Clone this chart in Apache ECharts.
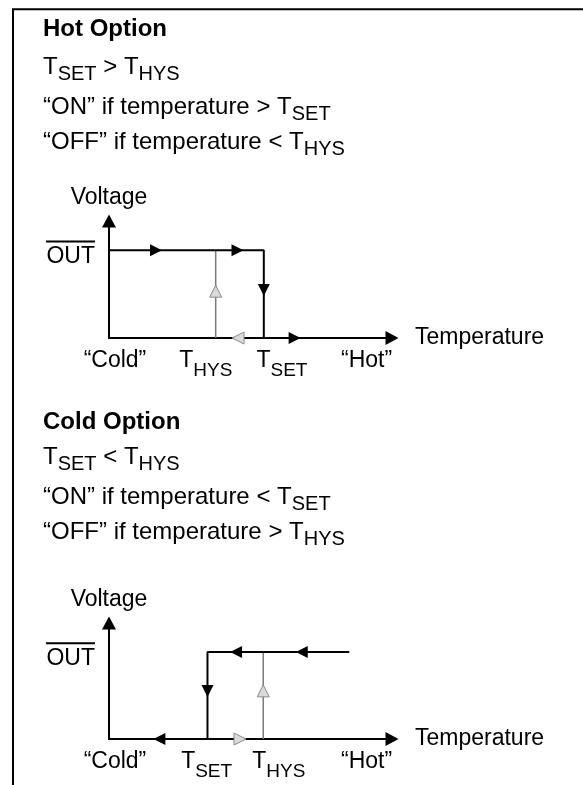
<!DOCTYPE html>
<html><head><meta charset="utf-8">
<script src="https://cdn.jsdelivr.net/npm/echarts@6/dist/echarts.min.js"></script>
<style>html,body{margin:0;padding:0;background:#fff}#c{width:583px;height:785px}</style>
</head><body><div id="c"></div><script>
const FONT = '"Liberation Sans", Arial, Helvetica, sans-serif';

// ---- Hot option ----
const hotTitle = 'Hot Option';
const hotLines = ['T_{SET} > T_{HYS}', '“ON” if temperature > T_{SET}', '“OFF” if temperature < T_{HYS}'];
const hotTickValues = [2.1, 34.2, 61.1, 91.0];
const hotTickLabels = ['“Cold”', 'T_{HYS}', 'T_{SET}', '“Hot”'];
const hotOutPath = [[0, 0.75], [54.7, 0.75], [54.7, 0]];
const hotHysPath = [[37.7, 0], [37.7, 0.75]];
const hotArrowsRight = [[16.6, 0.75], [45.4, 0.75], [65.6, 0]];
const hotArrowsDown = [[54.7, 0.41]];
const hotGrayUp = [[37.7, 0.40]];
const hotGrayLeft = [[45.6, 0]];

// ---- Cold option ----
const coldTitle = 'Cold Option';
const coldLines = ['T_{SET} < T_{HYS}', '“ON” if temperature < T_{SET}', '“OFF” if temperature > T_{HYS}'];
const coldTickValues = [2.1, 34.5, 60.0, 91.0];
const coldTickLabels = ['“Cold”', 'T_{SET}', 'T_{HYS}', '“Hot”'];
const coldOutPath = [[84.9, 0.75], [34.8, 0.75], [34.8, 0]];
const coldHysPath = [[54.5, 0], [54.5, 0.75]];
const coldArrowsLeft = [[44.9, 0.75], [68.1, 0.75], [17.8, 0]];
const coldArrowsDown = [[34.8, 0.414]];
const coldGrayUp = [[54.5, 0.415]];
const coldGrayRight = [[46.3, 0]];

const yLevelValues = [0.75];
const yLevelLabel = 'OUT';
const xName = 'Temperature';
const yName = 'Voltage';

function toRich(str, m, s) {
  const parts = str.split(/_\{([^}]*)\}/);
  return parts.map((p, i) => p === '' ? '' : (i % 2 ? '{' + s + '|' + p + '}' : '{' + m + '|' + p + '}')).join('');
}

const mainStyle = { fontFamily: FONT, fontSize: 23, color: '#000', height: 30, lineHeight: 30, verticalAlign: 'bottom' };
const blockStyle = Object.assign({}, mainStyle, { fontSize: 24 });
const boldStyle = Object.assign({}, blockStyle, { fontWeight: 'bold' });
const subLine = { fontFamily: FONT, fontSize: 20, color: '#000', height: 16, lineHeight: 16, verticalAlign: 'bottom' };
const subLabel = Object.assign({}, subLine, { fontSize: 19, height: 10, lineHeight: 10 });

const textTopsHot = [14, 52.7, 92.7, 127.4];
const textTopsCold = [407.4, 442.7, 482.7, 517.4];

function textBlock(title, lines, tops) {
  const els = [{ type: 'text', x: 43, y: tops[0], silent: true,
    style: { text: '{b|' + title + '}', rich: { b: boldStyle }, verticalAlign: 'top', align: 'left' } }];
  lines.forEach((l, i) => els.push({ type: 'text', x: 43, y: tops[i + 1], silent: true,
    style: { text: toRich(l, 'm', 's'), rich: { m: blockStyle, s: subLine }, verticalAlign: 'top', align: 'left' } }));
  return els;
}

function xAxisFor(gi, ticks, labels, margin) {
  return {
    gridIndex: gi, type: 'value', min: 0, max: 100,
    axisLine: { show: true, onZero: false, symbol: ['none', 'triangle'], symbolSize: [14, 13], lineStyle: { color: '#000', width: 2 } },
    axisTick: { show: false }, splitLine: { show: false },
    axisLabel: {
      show: true, customValues: ticks, margin: margin,
      formatter: function (v) {
        const i = ticks.findIndex(t => Math.abs(t - v) < 1e-6);
        return i >= 0 ? toRich(labels[i], 'm', 's') : '';
      },
      rich: { m: mainStyle, s: subLabel }
    },
    name: xName, nameLocation: 'end', nameGap: 23, nameMoveOverlap: false,
    nameTextStyle: { fontFamily: FONT, fontSize: 23, color: '#000', align: 'left', verticalAlign: 'middle', padding: [0, 0, 3, 0] }
  };
}
function yAxisFor(gi) {
  return {
    gridIndex: gi, type: 'value', min: 0, max: 1,
    axisLine: { show: true, onZero: false, symbol: ['none', 'triangle'], symbolSize: [14, 13], lineStyle: { color: '#000', width: 2 } },
    axisTick: { show: false }, splitLine: { show: false },
    axisLabel: {
      show: true, customValues: yLevelValues, margin: 14,
      formatter: function () { return '{sp|}\n{ol|}\n{o|' + yLevelLabel + '}'; },
      rich: {
        sp: { height: 11.6, lineHeight: 11.6, width: 1 },
        ol: { height: 2, lineHeight: 2, width: 49, backgroundColor: '#000' },
        o: { fontFamily: FONT, fontSize: 23, color: '#000', height: 29, lineHeight: 29 }
      }
    },
    name: yName, nameLocation: 'end', nameGap: 12, nameMoveOverlap: false,
    nameTextStyle: { fontFamily: FONT, fontSize: 23, color: '#000' }
  };
}

function lineS(gi, data, color, width) {
  return { type: 'line', xAxisIndex: gi, yAxisIndex: gi, data: data, symbol: 'none', clip: false,
    lineStyle: { color: color, width: width }, silent: true, animation: false, z: 3 };
}
function arrowS(gi, data, rot, gray) {
  return { type: 'scatter', xAxisIndex: gi, yAxisIndex: gi, data: data, symbol: 'triangle', symbolSize: [12, 12],
    symbolRotate: rot, clip: false, silent: true, animation: false, z: 5,
    itemStyle: gray ? { color: '#dadada', borderColor: '#8a8a8a', borderWidth: 1, opacity: 1 } : { color: '#000', opacity: 1 } };
}

const chart = echarts.init(document.getElementById('c'), null, { renderer: 'canvas' });
chart.setOption({
  backgroundColor: '#fff',
  animation: false,
  grid: [
    { left: 109, top: 221, width: 283, height: 117, containLabel: false, outerBoundsMode: 'none' },
    { left: 109, top: 623, width: 283, height: 116, containLabel: false, outerBoundsMode: 'none' }
  ],
  xAxis: [xAxisFor(0, hotTickValues, hotTickLabels, 8), xAxisFor(1, coldTickValues, coldTickLabels, 8)],
  yAxis: [yAxisFor(0), yAxisFor(1)],
  series: [
    lineS(0, hotHysPath, '#7a7a7a', 1.5),
    lineS(0, hotOutPath, '#000', 2),
    arrowS(0, hotArrowsRight, -90, false),
    arrowS(0, hotArrowsDown, 180, false),
    arrowS(0, hotGrayUp, 0, true),
    arrowS(0, hotGrayLeft, 90, true),
    lineS(1, coldHysPath, '#7a7a7a', 1.5),
    lineS(1, coldOutPath, '#000', 2),
    arrowS(1, coldArrowsLeft, 90, false),
    arrowS(1, coldArrowsDown, 180, false),
    arrowS(1, coldGrayUp, 0, true),
    arrowS(1, coldGrayRight, -90, true)
  ],
  graphic: [
    { type: 'polyline', silent: true, shape: { points: [[583, 9.3], [13, 9.3], [13, 790]] }, style: { stroke: '#000', lineWidth: 2, fill: null } }
  ].concat(textBlock(hotTitle, hotLines, textTopsHot), textBlock(coldTitle, coldLines, textTopsCold))
});
</script></body></html>
